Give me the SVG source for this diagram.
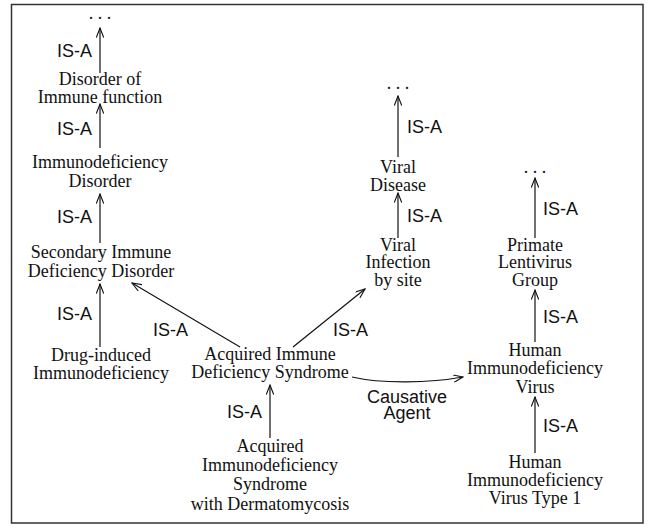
<svg xmlns="http://www.w3.org/2000/svg" width="648" height="525" viewBox="0 0 648 525">
<style>
.n{font-family:"Liberation Serif","Times New Roman",serif;font-size:18px;fill:#111;text-anchor:middle}
.l{font-family:"Liberation Sans",Arial,sans-serif;font-size:18px;fill:#111}
.c{stroke:#111;stroke-width:1.2;fill:none;marker-end:url(#ah)}
</style>
<defs>
<marker id="ah" viewBox="0 0 11 8" refX="10" refY="4" markerWidth="11" markerHeight="8" markerUnits="userSpaceOnUse" orient="auto">
<path d="M0.5,0.3 L10,4 L0.5,7.7" fill="none" stroke="#111" stroke-width="1.1"/>
</marker>
</defs>
<rect x="11.5" y="4.5" width="631.5" height="518.5" fill="#fff" stroke="#333" stroke-width="1.5"/>
<g id="connectors">
<path class="c" d="M100,73 L100,28"/>
<path class="c" d="M100,148 L100,104"/>
<path class="c" d="M100,243 L100,194"/>
<path class="c" d="M100,347 L100,284"/>
<path class="c" d="M240,347 L132,283"/>
<path class="c" d="M293,347 L365,289"/>
<path class="c" d="M270,438 L270,385"/>
<path class="c" d="M352,377 C382,384 430,383 463,377"/>
<path class="c" d="M398,157 L398,96"/>
<path class="c" d="M398,238 L398,193"/>
<path class="c" d="M535,238 L535,178"/>
<path class="c" d="M535,342 L535,290"/>
<path class="c" d="M535,453 L535,397"/>
<g id="labels">
<text class="l" x="92" y="57" text-anchor="end">IS-A</text>
<text class="l" x="92" y="135" text-anchor="end">IS-A</text>
<text class="l" x="92" y="223" text-anchor="end">IS-A</text>
<text class="l" x="92" y="320" text-anchor="end">IS-A</text>
<text class="l" x="153" y="336">IS-A</text>
<text class="l" x="333" y="336">IS-A</text>
<text class="l" x="262" y="418" text-anchor="end">IS-A</text>
<text class="l" x="407" y="403" text-anchor="middle">Causative</text>
<text class="l" x="407" y="419" text-anchor="middle">Agent</text>
<text class="l" x="407" y="133">IS-A</text>
<text class="l" x="407" y="222">IS-A</text>
<text class="l" x="543" y="215">IS-A</text>
<text class="l" x="543" y="323">IS-A</text>
<text class="l" x="543" y="432">IS-A</text>
</g>
</g>
<g id="dots1"><text class="n" x="100" y="19">. . .</text></g>
<g id="disorder_immune"><text class="n" x="100" y="85">Disorder of</text><text class="n" x="100" y="103">Immune function</text></g>
<g id="immunodef_disorder"><text class="n" x="100" y="168">Immunodeficiency</text><text class="n" x="100" y="187">Disorder</text></g>
<g id="secondary"><text class="n" x="101" y="258">Secondary Immune</text><text class="n" x="101" y="277">Deficiency Disorder</text></g>
<g id="drug"><text class="n" x="101" y="361">Drug-induced</text><text class="n" x="101" y="379">Immunodeficiency</text></g>
<g id="aids"><text class="n" x="270" y="360">Acquired Immune</text><text class="n" x="270" y="378">Deficiency Syndrome</text></g>
<g id="aids_derm"><text class="n" x="270" y="452">Acquired</text><text class="n" x="270" y="471">Immunodeficiency</text><text class="n" x="270" y="490">Syndrome</text><text class="n" x="270" y="510">with Dermatomycosis</text></g>
<g id="dots2"><text class="n" x="398" y="89">. . .</text></g>
<g id="viral_disease"><text class="n" x="398" y="173">Viral</text><text class="n" x="398" y="191">Disease</text></g>
<g id="viral_infection"><text class="n" x="398" y="251">Viral</text><text class="n" x="398" y="268">Infection</text><text class="n" x="398" y="286">by site</text></g>
<g id="dots3"><text class="n" x="535" y="173">. . .</text></g>
<g id="primate"><text class="n" x="535" y="251">Primate</text><text class="n" x="535" y="268">Lentivirus</text><text class="n" x="535" y="286">Group</text></g>
<g id="hiv"><text class="n" x="535" y="356">Human</text><text class="n" x="535" y="374">Immunodeficiency</text><text class="n" x="535" y="393">Virus</text></g>
<g id="hiv1"><text class="n" x="535" y="468">Human</text><text class="n" x="535" y="486">Immunodeficiency</text><text class="n" x="535" y="504">Virus Type 1</text></g>
</svg>
